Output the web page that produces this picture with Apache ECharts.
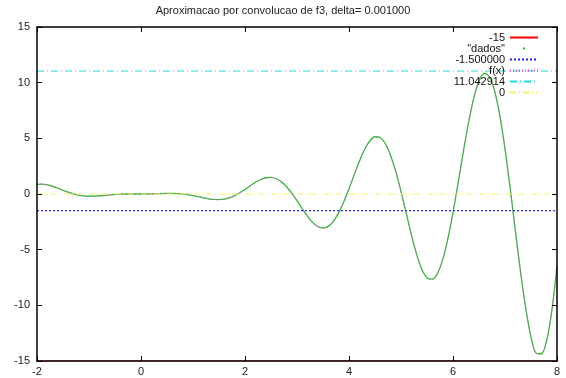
<!DOCTYPE html>
<html>
<head>
<meta charset="utf-8">
<script src="https://cdn.jsdelivr.net/npm/echarts@6/dist/echarts.min.js"></script>
<style>
  html, body { margin: 0; padding: 0; background: #fff; }
  #chart { width: 566px; height: 378px; }
</style>
</head>
<body>
<div id="chart"></div>
<script>
// sample points of the approximated curve
const xs = [
  -2, -1.9, -1.8, -1.7, -1.6, -1.5, -1.4, -1.3, -1.2, -1.1,
  -1, -0.9, -0.8, -0.7, -0.6, -0.5, -0.4, -0.3, -0.2, -0.1,
  0, 0.1, 0.2, 0.3, 0.4, 0.5, 0.6, 0.7, 0.8, 0.9,
  1, 1.1, 1.2, 1.3, 1.4, 1.5, 1.6, 1.7, 1.8, 1.9,
  2, 2.1, 2.2, 2.3, 2.4, 2.5, 2.6, 2.7, 2.8, 2.9,
  3, 3.1, 3.2, 3.3, 3.4, 3.5, 3.6, 3.7, 3.8, 3.9,
  4, 4.1, 4.2, 4.3, 4.4, 4.5, 4.6, 4.7, 4.8, 4.9,
  5, 5.1, 5.2, 5.3, 5.4, 5.5, 5.6, 5.7, 5.8, 5.9,
  6, 6.1, 6.2, 6.3, 6.4, 6.5, 6.6, 6.7, 6.8, 6.9,
  7, 7.1, 7.2, 7.3, 7.4, 7.5, 7.6, 7.7, 7.8, 7.9,
  8,
]
const ys = [
  0.87, 0.89, 0.82, 0.69, 0.52, 0.33, 0.16, 0.01, -0.1, -0.17,
  -0.2, -0.19, -0.16, -0.12, -0.08, -0.04, -0.02, 0, 0, 0,
  0, 0, 0.01, 0.02, 0.04, 0.05, 0.05, 0.04, 0, -0.06,
  -0.14, -0.24, -0.34, -0.43, -0.49, -0.5, -0.46, -0.34, -0.15, 0.11,
  0.41, 0.74, 1.05, 1.3, 1.46, 1.5, 1.37, 1.09, 0.65, 0.07,
  -0.6, -1.31, -1.98, -2.55, -2.92, -3.06, -2.91, -2.45, -1.7, -0.7,
  0.47, 1.72, 2.94, 3.99, 4.76, 5.14, 5.07, 4.51, 3.46, 2.01,
  0.23, -1.72, -3.67, -5.4, -6.75, -7.52, -7.65, -7.15, -5.92, -4.05,
  -1.67, 1.04, 3.83, 6.44, 8.64, 10.16, 10.84, 10.55, 9.27, 7.06,
  4.06, 0.5, -3.32, -7.03, -10.3, -12.85, -14.3, -14.35, -13.2, -10.5,
  -6.5,
]
// constant lines
const hNames = ['-15', '-1.500000', '11.042914', '0']
const hValues = [-15, -1.5, 11.042914, 0]
const xTicks = [-2, 0, 2, 4, 6, 8]
const yTicks = [-15, -10, -5, 0, 5, 10, 15]

const FONT = 'Liberation Sans'
const xMin = xTicks[0], xMax = xTicks[xTicks.length - 1]
const yMin = yTicks[0], yMax = yTicks[yTicks.length - 1]
const curve = xs.map((x, i) => [x, ys[i]])
const hLine = (v) => [[xMin, v], [xMax, v]]

const chart = echarts.init(document.getElementById('chart'))

const tick = { show: true, inside: true, length: 5, lineStyle: { color: '#000' } }
const axisBase = {
  type: 'value',
  splitLine: { show: false },
  axisLine: { show: true, onZero: false, lineStyle: { color: '#000', width: 1.5 } },
  axisTick: tick,
  zlevel: 1,
  z: 5,
}

function lineSeries(name, data, color, type, width, z, smooth) {
  return {
    name,
    type: 'line',
    data,
    showSymbol: false,
    symbol: 'none',
    smooth: smooth || false,
    lineStyle: { color, type, width },
    itemStyle: { color },
    animation: false,
    z,
  }
}

chart.setOption({
  backgroundColor: '#fff',
  title: {
    text: 'Aproximacao por convolucao de f3, delta= 0.001000',
    left: 'center',
    top: 0,
    textStyle: { fontFamily: FONT, fontSize: 11, fontWeight: 'normal', color: '#222' },
  },
  grid: { left: 37, right: 9, top: 27, bottom: 17 },
  legend: {
    orient: 'vertical',
    right: 22,
    top: 27,
    align: 'right',
    itemWidth: 28,
    itemHeight: 8,
    itemGap: 0,
    selectedMode: false,
    itemStyle: { opacity: 0 },
    textStyle: { fontFamily: FONT, fontSize: 11, color: '#111', lineHeight: 11 },
    data: [
      { name: '-15' },
      {
        name: '"dados"',
        icon: 'path://M0,0M28,8M13,3h2v2h-2z',
        itemStyle: { opacity: 1, color: '#22cc22' },
        lineStyle: { opacity: 0 },
      },
      { name: '-1.500000' },
      { name: 'f(x)' },
      { name: '11.042914' },
      { name: '0' },
    ],
  },
  xAxis: [
    {
      ...axisBase,
      min: xMin,
      max: xMax,
      interval: 2,
      axisLabel: { fontFamily: FONT, fontSize: 11, color: '#222', margin: 5 },
    },
    {
      ...axisBase,
      position: 'top',
      min: xMin,
      max: xMax,
      interval: 2,
      axisLabel: { show: false },
    },
  ],
  yAxis: [
    {
      ...axisBase,
      min: yMin,
      max: yMax,
      interval: 5,
      axisLabel: { fontFamily: FONT, fontSize: 11, color: '#222', margin: 7 },
    },
    {
      ...axisBase,
      position: 'right',
      min: yMin,
      max: yMax,
      interval: 5,
      axisLabel: { show: false },
    },
  ],
  series: [
    lineSeries(hNames[0], hLine(hValues[0]), '#ff0000', 'solid', 1, 0),
    lineSeries('"dados"', curve, '#22cc22', 'solid', 1.3, 2, 0.3),
    lineSeries(hNames[1], hLine(hValues[1]), '#1a1aff', [2, 2], 1.2, 3),
    lineSeries('f(x)', curve, '#e040e0', [1, 2], 1, 3, 0.3),
    lineSeries(hNames[2], hLine(hValues[2]), '#22dddd', [7, 3, 1, 3], 1, 3),
    lineSeries(hNames[3], hLine(hValues[3]), '#f5f560', [6, 3, 1, 3], 1.2, 3),
  ],
})
</script>
</body>
</html>
